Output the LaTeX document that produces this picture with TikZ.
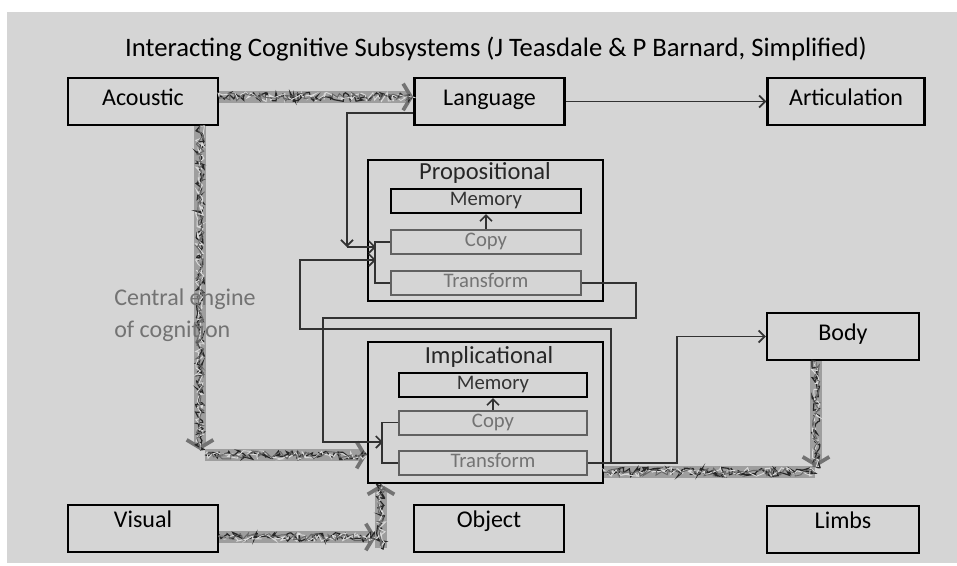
\documentclass[tikz,border=0pt]{standalone}
\usepackage{fontspec}
\setmainfont{Carlito}
\usetikzlibrary{arrows.meta,calc,decorations.pathmorphing}
\definecolor{bg}{RGB}{213,213,213}
\definecolor{lnk}{RGB}{50,50,50}
\definecolor{faint}{RGB}{115,115,115}
\begin{document}
\begin{tikzpicture}[x=0.75pt,y=-0.75pt,
  box/.style={draw=black, line width=1.8pt, minimum width=112.5pt, minimum height=35.25pt, inner sep=0pt,
    font=\fontsize{18}{20}\selectfont, text height=12.5pt, text depth=7pt},
  boxlow/.style={box, text depth=14.5pt},
  outer/.style={draw=black, line width=1.8pt, minimum width=176.25pt, minimum height=105.75pt, inner sep=0pt},
  ttl/.style={font=\fontsize{18.4}{20}\selectfont, text=black!85, inner sep=0pt},
  mem/.style={draw=black, line width=1.5pt, minimum width=142.5pt, minimum height=18pt, inner sep=0pt,
    font=\fontsize{15.5}{16}\selectfont, text=black!80, text height=10.5pt, text depth=3.5pt},
  sub/.style={mem, draw=black!62, text=faint},
  link/.style={draw=lnk, line width=1.3pt, -{Straight Barb[length=4.5pt,width=9pt]}},
  plain/.style={draw=lnk, line width=1.3pt},
  speck/.style={postaction={draw=black!85, line width=0.9pt, -, decorate,
      decoration={random steps, segment length=1.6pt, amplitude=3.4pt}},
    postaction={draw=black!15, line width=0.7pt, -, decorate,
      decoration={random steps, segment length=2.2pt, amplitude=3.4pt}},
    postaction={draw=black!60, line width=0.7pt, -, decorate,
      decoration={random steps, segment length=2.5pt, amplitude=3.0pt}}},
  fatbase/.style={line width=8.5pt, draw=black!38},
  fat/.style={fatbase, -{Straight Barb[length=6pt,width=20pt,line width=2.8pt,color=black!55]}, speck},
  fatplain/.style={fatbase, speck}
]
\pgfmathsetseed{7}
\useasboundingbox (0,0) rectangle (957,565);
\fill[white] (0,0) rectangle (957,565);
\fill[bg] (7,12) rectangle (957,563);

\node[font=\fontsize{20}{22}\selectfont] (title) at (496,49) {Interacting Cognitive Subsystems (J Teasdale \& P Barnard, Simplified)};

% main boxes
\node[box] (ac) at (143,101.5) {Acoustic};
\node[box] (lang) at (489.5,101.5) {Language};
\node[box, minimum width=117.75pt] (art) at (846,101.5) {Articulation};
\node[box, minimum width=114pt] (body) at (843,336.5) {Body};
\node[boxlow, minimum width=114pt] (limbs) at (843,529.5) {Limbs};
\node[boxlow] (vis) at (143,528.5) {Visual};
\node[boxlow] (obj) at (489,528.5) {Object};

% propositional
\node[outer] (prop) at (485.5,230.5) {};
\node[ttl] (ptitle) at (485,173) {Propositional};
\node[mem] (pmem) at (486,201) {Memory};
\node[sub] (pcopy) at (486,242) {Copy};
\node[sub] (ptr) at (486,283) {Transform};

% implicational
\node[outer] (impl) at (485.5,412.5) {};
\node[ttl] (ititle) at (489,357) {Implicational};
\node[mem, minimum width=141pt] (imem) at (493,385) {Memory};
\node[sub, minimum width=141pt] (icopy) at (493,422.5) {Copy};
\node[sub, minimum width=141pt] (itr) at (493,463) {Transform};

% fat textured arrows
\coordinate (ad) at (200,450);
\coordinate (ah) at (205,455);
\coordinate (vh) at (376,537);
\coordinate (iv) at (381,548);
\coordinate (bh) at (815,472);
\coordinate (bd) at (816,467);
\draw[fat] ([yshift=3.4pt]ac.east) -- ([yshift=3.4pt]lang.west);
\draw[fat] (ac.south -| ad) -- (ad);
\draw[fat] (ah) -- (impl.west |- ah);
\draw[fat] (vis.east |- vh) -- (vh);
\draw[fat] (iv) -- (impl.south -| iv);
\draw[fatplain] (impl.east |- bh) -- (bh);
\draw[fat] (body.south -| bd) -- (bd);

% inner arrows and brackets
\draw[link] (pcopy.north) -- (pmem.south);
\draw[link] (icopy.north) -- (imem.south);
\draw[plain] (pcopy.west) -- ++(-15,0) |- (ptr.west);
\draw[plain] (icopy.west) -- ++(-16,0) |- (itr.west);

% connectors
\coordinate (pb1) at (376,247);
\coordinate (pb2) at (376,260);
\coordinate (lc) at (347,247);
\coordinate (r1) at (611,329);
\coordinate (l1) at (300,329);
\coordinate (r2) at (636,318);
\coordinate (l2) at (323,318);
\coordinate (ib) at (383,442);
\coordinate (bj) at (677,336.5);
\draw[link] (lang.east) -- (art.west);
\draw[link] ([yshift=-8.5pt]lang.west) -| (lc);
\draw[link] (lc) -- (pb1);
\draw[link] (itr.east) -| (r1) -- (l1) |- (pb2);
\draw[link] (ptr.east) -| (r2) -- (l2) |- (ib);
\draw[link] (itr.east) -| (bj) -- (body.west);

\node[anchor=west, text=faint, align=left, font=\fontsize{18}{24}\selectfont, inner sep=0pt] (cen) at (114,315) {Central engine\\of cognition};
\end{tikzpicture}
\end{document}
